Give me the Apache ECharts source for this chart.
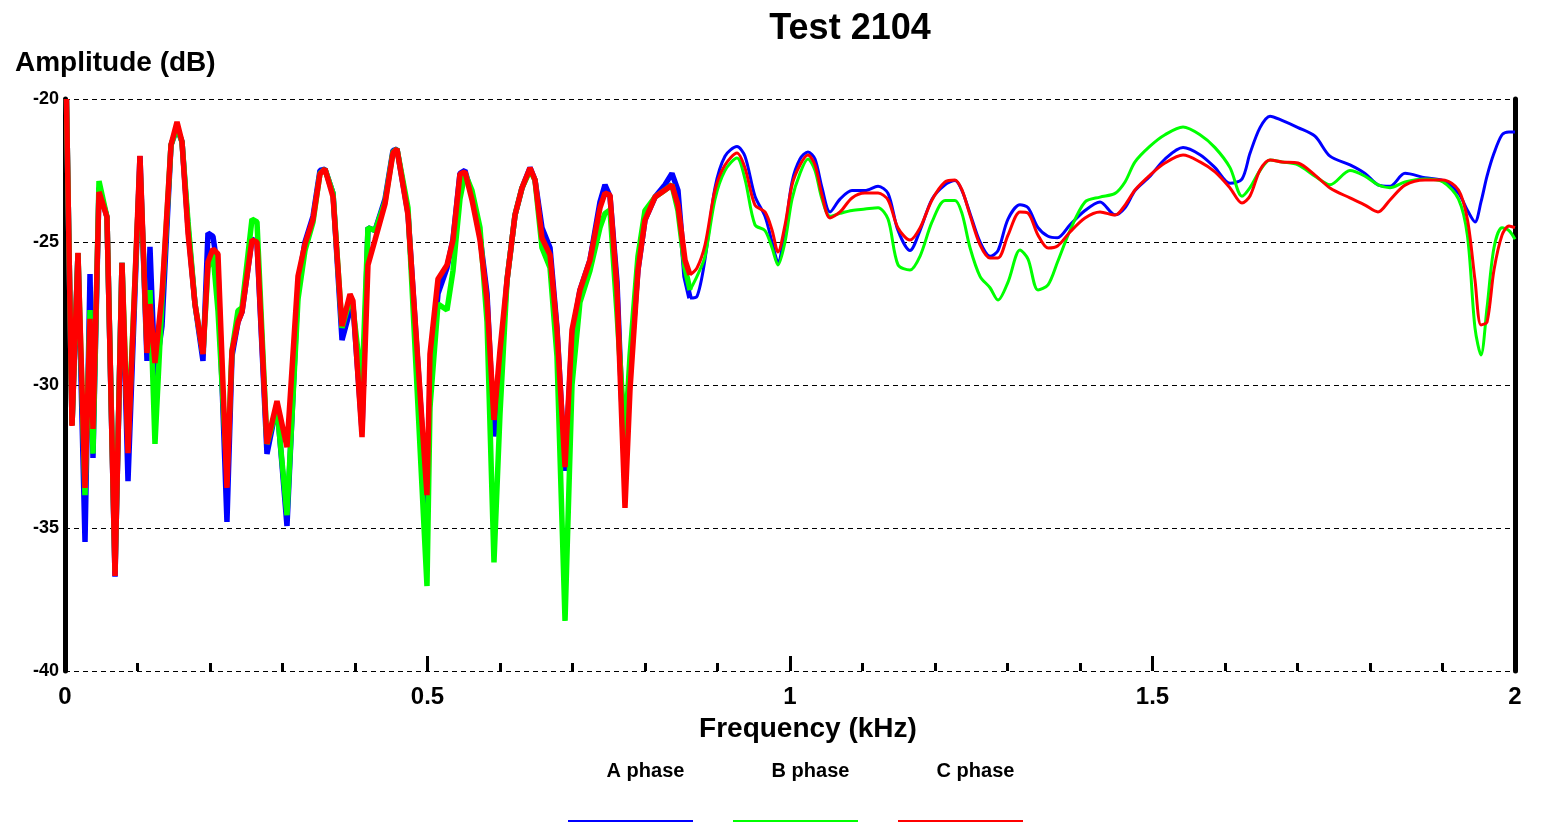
<!DOCTYPE html>
<html>
<head>
<meta charset="utf-8">
<title>Test 2104</title>
<script src="https://cdn.jsdelivr.net/npm/echarts@6/dist/echarts.min.js"></script>
<style>
  html, body { margin: 0; padding: 0; background: #ffffff; }
  #chart { width: 1550px; height: 825px; }
</style>
</head>
<body>
<div id="chart"></div>
<script>
// Frequency grid (kHz), shared by the three phases
const freq = [
  0.002, 0.0097, 0.0179, 0.0276, 0.0345, 0.0386, 0.0469, 0.0579, 0.069, 0.0786,
  0.0869, 0.1034, 0.1131, 0.1172, 0.1241, 0.1338, 0.1462, 0.1545, 0.1614, 0.1697,
  0.1793, 0.1903, 0.1972, 0.2041, 0.211, 0.2234, 0.2303, 0.2386, 0.2441, 0.2579,
  0.2648, 0.2786, 0.2924, 0.3062, 0.3214, 0.331, 0.3421, 0.3517, 0.3586, 0.3697,
  0.3821, 0.3931, 0.3972, 0.4097, 0.4179, 0.4276, 0.4414, 0.4524, 0.4579, 0.4731,
  0.4993, 0.5034, 0.5145, 0.5269, 0.5352, 0.5448,
  0.5517, 0.5614, 0.5724, 0.5821, 0.5917, 0.6, 0.6097, 0.6207, 0.6303, 0.6414,
  0.6483, 0.6579, 0.669, 0.6786, 0.6897, 0.6993, 0.7103, 0.7241, 0.7379, 0.7448,
  0.7517, 0.7614, 0.7724, 0.7793, 0.7903, 0.8, 0.8138, 0.8276, 0.8372, 0.8455,
  0.8552, 0.8621,
  0.8717, 0.8828, 0.8966, 0.9103, 0.9269, 0.9379, 0.9517, 0.9655, 0.9752, 0.9834,
  0.9931, 1.0028, 1.0138, 1.0248, 1.0345, 1.0441, 1.0552, 1.069, 1.0855, 1.1034,
  1.1214, 1.1352, 1.149, 1.1655, 1.1793, 1.1959, 1.2138, 1.2276, 1.2372, 1.2483,
  1.2621, 1.2759, 1.2869, 1.3007, 1.3172, 1.3283, 1.3421, 1.3559, 1.369, 1.3862,
  1.4069, 1.4276, 1.4483, 1.4621, 1.4759, 1.4966, 1.5172, 1.5421, 1.5655, 1.5862,
  1.6069, 1.6234, 1.6345, 1.6483, 1.6621, 1.6786, 1.7007, 1.7241, 1.7448, 1.7724,
  1.7931, 1.811, 1.8276, 1.8483, 1.8759, 1.9007, 1.9221, 1.9345, 1.9448, 1.9531,
  1.9614, 1.971, 1.9821, 1.9917, 2.0
];

// Amplitude (dB) of each phase
const phaseA = [
  -20.0, -31.4, -25.4, -35.49, -26.12, -32.55, -23.1, -24.13, -36.7, -25.73,
  -33.36, -22.0, -29.16, -25.17, -29.7, -27.94, -21.61, -21.0, -21.5, -24.5,
  -27.17, -29.16, -24.69, -24.8, -26.0, -34.79, -29.0, -27.8, -27.45, -24.9,
  -25.0, -32.41, -30.66, -34.93, -26.5, -25.0, -24.1, -22.5, -22.45, -23.3,
  -28.43, -27.4, -27.2, -31.6, -24.5, -24.6, -23.5, -21.8, -21.75, -24.0,
  -34.16, -30.0, -26.8, -25.9, -24.9, -22.6,
  -22.5, -23.4, -24.8, -26.8, -31.8, -29.5, -26.33, -24.06, -23.11, -22.4,
  -22.83, -24.5, -25.2, -28.0, -33.0, -28.3, -26.68, -25.63, -23.6, -23.0,
  -23.4, -26.4, -33.5, -29.5, -25.98, -24.23, -23.43, -23.0, -22.6, -23.2,
  -26.2, -26.96,
  -26.9, -25.6, -23.1, -22.0, -21.66, -22.0, -23.4, -24.1, -25.0, -25.7,
  -24.6, -22.9, -22.1, -21.85, -22.1, -23.1, -23.95, -23.5, -23.2, -23.2,
  -23.05, -23.3, -24.6, -25.3, -24.6, -23.5, -23.0, -22.85, -23.2, -24.0,
  -25.0, -25.5, -25.3, -24.2, -23.7, -23.8, -24.5, -24.8, -24.85, -24.4,
  -23.9, -23.6, -24.05, -23.8, -23.2, -22.7, -22.1, -21.7, -21.95, -22.4,
  -22.95, -22.8, -21.9, -21.0, -20.6, -20.75, -21.0, -21.3, -22.0, -22.3,
  -22.6, -23.0, -23.05, -22.6, -22.75, -22.85, -23.3, -23.9, -24.3, -23.6,
  -22.7, -21.9, -21.25, -21.15, -21.15
];

const phaseB = [
  -20.0, -31.4, -25.4, -33.85, -27.38, -32.4, -22.87, -24.13, -36.5, -25.73,
  -32.0, -22.3, -28.7, -26.68, -32.06, -27.05, -21.61, -21.0, -21.5, -24.3,
  -27.17, -28.9, -25.9, -25.4, -27.4, -33.1, -28.81, -27.4, -27.3, -24.2,
  -24.3, -32.06, -30.8, -34.55, -27.0, -25.3, -24.3, -22.6, -22.45, -23.3,
  -28.0, -27.0, -27.3, -30.05, -24.5, -24.6, -23.6, -21.85, -21.75, -23.8,
  -37.03, -30.8, -27.17, -27.38, -26.0, -23.5,
  -22.6, -23.2, -24.5, -27.8, -36.2, -31.0, -26.33, -24.06, -23.11, -22.5,
  -22.83, -25.2, -25.9, -29.0, -38.25, -30.0, -27.1, -26.0, -24.5, -24.0,
  -23.88, -27.5, -31.9, -29.0, -25.5, -23.9, -23.43, -23.18, -23.0, -23.9,
  -25.9, -26.68,
  -26.2, -25.5, -23.5, -22.5, -22.06, -22.8, -24.4, -24.6, -25.2, -25.8,
  -25.0, -23.5, -22.6, -22.1, -22.5, -23.5, -24.1, -24.0, -23.9, -23.85,
  -23.8, -24.2, -25.8, -25.98, -25.5, -24.3, -23.55, -23.55, -24.0, -25.2,
  -26.2, -26.6, -27.03, -26.4, -25.28, -25.6, -26.68, -26.5, -25.7, -24.6,
  -23.6, -23.43, -23.3, -22.9, -22.2, -21.65, -21.25, -20.98, -21.25, -21.7,
  -22.4, -23.4, -23.1, -22.5, -22.13, -22.2, -22.3, -22.7, -23.0, -22.5,
  -22.7, -23.0, -23.1, -22.9, -22.8, -22.9, -23.5, -24.8, -28.0, -28.95,
  -27.3, -25.2, -24.5, -24.6, -24.9
];

const phaseC = [
  -20.0, -31.43, -25.38, -33.6, -27.69, -31.54, -23.25, -24.13, -36.68, -25.73,
  -32.38, -21.99, -28.88, -27.17, -29.23, -26.82, -21.61, -20.8, -21.5, -24.69,
  -27.17, -28.92, -25.7, -25.24, -25.42, -33.6, -28.81, -27.8, -27.45, -24.93,
  -25.0, -32.06, -30.56, -32.17, -26.19, -25.07, -24.2, -22.62, -22.45, -23.43,
  -27.94, -26.82, -27.06, -31.82, -25.8, -24.93, -23.67, -21.89, -21.75, -24.06,
  -33.85, -28.92, -26.29, -25.8, -24.93, -22.62,
  -22.55, -23.53, -24.93, -27.03, -31.22, -28.78, -26.33, -24.06, -23.11, -22.41,
  -22.83, -24.86, -25.45, -28.08, -32.87, -28.08, -26.68, -25.63, -23.81, -23.29,
  -23.36, -26.68, -34.3, -30.17, -25.98, -24.23, -23.43, -23.18, -23.01, -23.71,
  -25.63, -26.15,
  -25.91, -25.1, -23.18, -22.31, -21.89, -22.41, -23.71, -23.95, -24.58, -25.35,
  -24.41, -23.01, -22.31, -21.96, -22.31, -23.36, -24.16, -23.95, -23.46, -23.29,
  -23.29, -23.53, -24.51, -24.93, -24.51, -23.53, -22.9, -22.83, -23.18, -24.06,
  -25.1, -25.56, -25.56, -24.76, -23.95, -23.99, -24.76, -25.21, -25.14, -24.65,
  -24.16, -23.95, -24.06, -23.71, -23.18, -22.66, -22.24, -21.96, -22.2, -22.55,
  -23.11, -23.64, -23.39, -22.48, -22.13, -22.2, -22.24, -22.66, -23.11, -23.46,
  -23.71, -23.95, -23.53, -23.01, -22.83, -22.83, -23.18, -24.23, -26.33, -27.9,
  -27.8, -25.98, -24.76, -24.44, -24.5
];

const phaseNames = ['A phase', 'B phase', 'C phase'];
const phaseColors = ['#0000ff', '#00ff00', '#ff0000'];
const yTicks = { min: -40, max: -20, step: 5 };

// The low-frequency band is traced with a heavier pen than the rest,
// the upper band as a smoothed curve
const splitFreq = 0.8621;
const splitIdx = freq.indexOf(splitFreq);

function pairs(values, from, to) {
  const out = [];
  for (let i = from; i <= to; i++) out.push([freq[i], values[i]]);
  return out;
}

const series = [];
[phaseA, phaseB, phaseC].forEach((vals, k) => {
  series.push({
    name: phaseNames[k], type: 'line', showSymbol: false, symbol: 'none',
    data: pairs(vals, 0, splitIdx),
    color: phaseColors[k],
    lineStyle: { width: 5.5, color: phaseColors[k] },
    z: 2 + k, animation: false
  });
  series.push({
    name: phaseNames[k], type: 'line', showSymbol: false, symbol: 'none',
    data: pairs(vals, splitIdx, freq.length - 1),
    smooth: 0.3,
    color: phaseColors[k],
    lineStyle: { width: 3, color: phaseColors[k] },
    z: 2 + k, animation: false
  });
});

const FONT = '"Liberation Sans", Arial, sans-serif';

const rich = {
  t: { fontFamily: FONT, fontSize: 20, fontWeight: 'bold', color: '#000', width: 125, align: 'center', lineHeight: 22, padding: [0, 0, 0, 15] },
  gap: { height: 38, width: 125 }
};
phaseNames.forEach((n, k) => {
  rich['l' + k] = { width: 125, height: 2, backgroundColor: phaseColors[k], lineHeight: 2 };
});

const chart = echarts.init(document.getElementById('chart'), null, { renderer: 'canvas' });
chart.setOption({
  backgroundColor: '#ffffff',
  animation: false,
  title: [
    {
      text: 'Test 2104', left: 845, top: 6, textAlign: 'center',
      textStyle: { fontFamily: FONT, fontSize: 36, fontWeight: 'bold', color: '#000' }
    },
    {
      text: 'Amplitude (dB)', left: 10, top: 44,
      textStyle: { fontFamily: FONT, fontSize: 28, fontWeight: 'bold', color: '#000' }
    }
  ],
  legend: {
    left: 558, top: 756,
    icon: 'none', itemWidth: 0, itemHeight: 0, itemGap: 20,
    selectedMode: false,
    data: phaseNames,
    formatter: function (name) {
      const k = phaseNames.indexOf(name);
      return '{t|' + name + '}\n{gap|}\n{l' + k + '|}';
    },
    textStyle: { rich: rich }
  },
  grid: { left: 65, right: 35, top: 99, bottom: 154, containLabel: false },
  xAxis: {
    type: 'value', min: 0, max: 2, interval: 0.5,
    name: 'Frequency (kHz)', nameLocation: 'middle', nameGap: 44,
    nameTextStyle: { fontFamily: FONT, fontSize: 28, fontWeight: 'bold', color: '#000', padding: [0, 0, 0, 36] },
    axisLine: { show: false },
    axisTick: { show: true, inside: true, length: 15, lineStyle: { color: '#000', width: 3 } },
    minorTick: { show: true, splitNumber: 5, length: 8, lineStyle: { color: '#000', width: 3 } },
    splitLine: { show: false },
    axisLabel: { fontFamily: FONT, fontSize: 24, fontWeight: 'bold', color: '#000', margin: 14 }
  },
  yAxis: [
    {
      type: 'value', min: yTicks.min, max: yTicks.max, interval: yTicks.step,
      position: 'left',
      axisLine: { show: true, lineStyle: { color: '#000', width: 5 } },
      axisTick: { show: false },
      splitLine: { show: true, lineStyle: { color: '#000', width: 1, type: [5, 4] } },
      axisLabel: { fontFamily: FONT, fontSize: 18, fontWeight: 'bold', color: '#000', margin: 6 }
    },
    {
      type: 'value', min: yTicks.min, max: yTicks.max, interval: yTicks.step,
      position: 'right',
      axisLine: { show: true, lineStyle: { color: '#000', width: 5 } },
      axisTick: { show: false },
      axisLabel: { show: false },
      splitLine: { show: false }
    }
  ],
  series: series
});
</script>
</body>
</html>
